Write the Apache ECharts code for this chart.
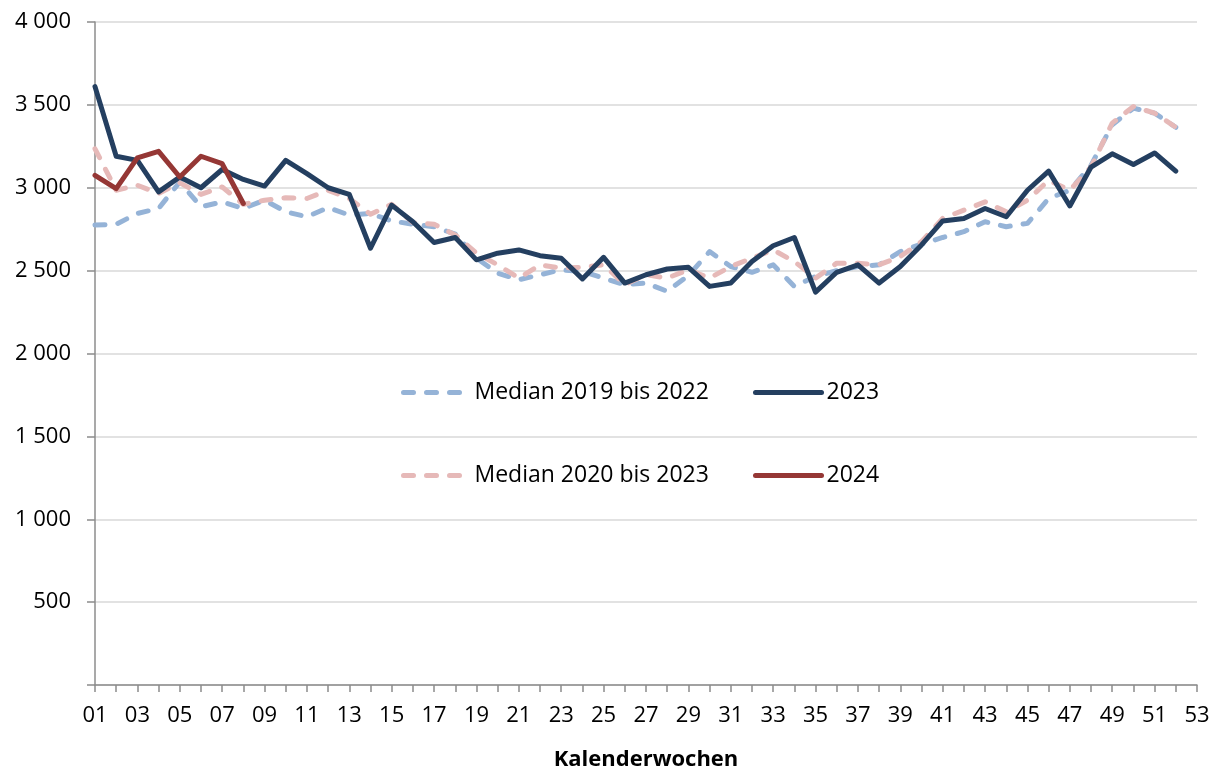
<!DOCTYPE html>
<html>
<head>
<meta charset="utf-8">
<script src="https://cdn.jsdelivr.net/npm/echarts@6/dist/echarts.min.js"></script>
<style>
  html, body { margin: 0; padding: 0; background: #fff; }
  #chart { width: 1217px; height: 776px; }
</style>
</head>
<body>
<div id="chart"></div>
<script>
const weeks = ['01', '02', '03', '04', '05', '06', '07', '08', '09', '10',
  '11', '12', '13', '14', '15', '16', '17', '18', '19', '20',
  '21', '22', '23', '24', '25', '26', '27', '28', '29', '30',
  '31', '32', '33', '34', '35', '36', '37', '38', '39', '40',
  '41', '42', '43', '44', '45', '46', '47', '48', '49', '50',
  '51', '52', '53']

// Median 2019 bis 2022
const median1922 = [2775, 2780, 2845, 2875, 3035, 2885, 2915, 2875, 2925, 2855,
  2825, 2880, 2835, 2845, 2800, 2780, 2765, 2720, 2575, 2485,
  2445, 2475, 2505, 2495, 2455, 2415, 2425, 2375, 2470, 2615,
  2525, 2490, 2535, 2405, 2465, 2500, 2525, 2535, 2615, 2660,
  2700, 2735, 2795, 2765, 2785, 2935, 2985, 3135, 3380, 3480,
  3450, 3365]

// Median 2020 bis 2023
const median2023 = [3235, 2985, 3015, 2965, 3030, 2960, 3005, 2900, 2925, 2940,
  2935, 2985, 2935, 2840, 2900, 2790, 2780, 2715, 2605, 2535,
  2455, 2535, 2515, 2520, 2535, 2415, 2475, 2455, 2505, 2455,
  2525, 2575, 2625, 2555, 2455, 2545, 2545, 2535, 2585, 2675,
  2815, 2865, 2915, 2855, 2925, 3045, 2985, 3125, 3390, 3490,
  3450, 3365]

const year2023 = [3610, 3190, 3165, 2975, 3065, 3000, 3110, 3050, 3010, 3165,
  3085, 3000, 2960, 2635, 2895, 2795, 2670, 2700, 2565, 2605,
  2625, 2590, 2575, 2450, 2580, 2425, 2475, 2510, 2520, 2405,
  2425, 2555, 2650, 2700, 2370, 2490, 2535, 2425, 2525, 2655,
  2800, 2815, 2875, 2825, 2985, 3100, 2890, 3125, 3205, 3140,
  3210, 3100]

const year2024 = [3075, 2995, 3180, 3220, 3065, 3190, 3145, 2905]

const FONT = 'Open Sans'
const LINE_W = 5
const dashed = [10, 13]

const chart = echarts.init(document.getElementById('chart'))

function legendAt(name, left, top, dash) {
  return {
    data: [name],
    left: left,
    top: top,
    itemWidth: 66,
    itemHeight: 14,
    itemGap: 0,
    selectedMode: false,
    itemStyle: { opacity: 0 },
    lineStyle: { width: LINE_W, type: dash ? dashed : 'solid', cap: 'round' },
    textStyle: { fontFamily: FONT, fontSize: 23, color: '#000' }
  }
}

const option = {
  animation: false,
  backgroundColor: '#fff',
  grid: {
    left: 95,
    right: 20,
    top: 22,
    bottom: 91
  },
  legend: [
    legendAt('Median 2019 bis 2022', 396, 376, true),
    legendAt('2023', 748, 376, false),
    legendAt('Median 2020 bis 2023', 396, 459, true),
    legendAt('2024', 748, 459, false)
  ],
  xAxis: {
    type: 'category',
    boundaryGap: false,
    data: weeks,
    name: 'Kalenderwochen',
    nameLocation: 'middle',
    nameGap: 64,
    nameTextStyle: { fontFamily: FONT, fontSize: 22, fontWeight: 'bold', color: '#000' },
    axisLine: { lineStyle: { color: '#8c8c8c', width: 1.5 } },
    axisTick: { show: true, interval: 0, length: 7, lineStyle: { color: '#8c8c8c', width: 1.5 } },
    axisLabel: { interval: 1, margin: 20, fontFamily: FONT, fontSize: 22, color: '#000' },
    splitLine: { show: false }
  },
  yAxis: {
    type: 'value',
    min: 0,
    max: 4000,
    interval: 500,
    axisLine: { show: true, lineStyle: { color: '#8c8c8c', width: 1.5 } },
    axisTick: { show: true, length: 8, lineStyle: { color: '#8c8c8c', width: 1.5 } },
    axisLabel: {
      margin: 24,
      fontFamily: FONT,
      fontSize: 22,
      color: '#000',
      formatter: (v) => (v === 0 ? '' : String(v).replace(/\B(?=(\d{3})+(?!\d))/g, ' '))
    },
    splitLine: { show: true, lineStyle: { color: '#d9d9d9', width: 1.5 } }
  },
  series: [
    {
      name: 'Median 2019 bis 2022',
      type: 'line',
      data: median1922,
      symbol: 'none',
      color: '#95b3d7',
      lineStyle: { color: '#95b3d7', width: LINE_W, type: dashed, cap: 'round', join: 'round' }
    },
    {
      name: 'Median 2020 bis 2023',
      type: 'line',
      data: median2023,
      symbol: 'none',
      color: '#e6b9b8',
      lineStyle: { color: '#e6b9b8', width: LINE_W, type: dashed, cap: 'round', join: 'round' }
    },
    {
      name: '2023',
      type: 'line',
      data: year2023,
      symbol: 'none',
      color: '#243f60',
      lineStyle: { color: '#243f60', width: LINE_W, cap: 'round', join: 'round' }
    },
    {
      name: '2024',
      type: 'line',
      data: year2024,
      symbol: 'none',
      color: '#953735',
      lineStyle: { color: '#953735', width: LINE_W, cap: 'round', join: 'round' }
    }
  ]
}

chart.setOption(option)
</script>
</body>
</html>
